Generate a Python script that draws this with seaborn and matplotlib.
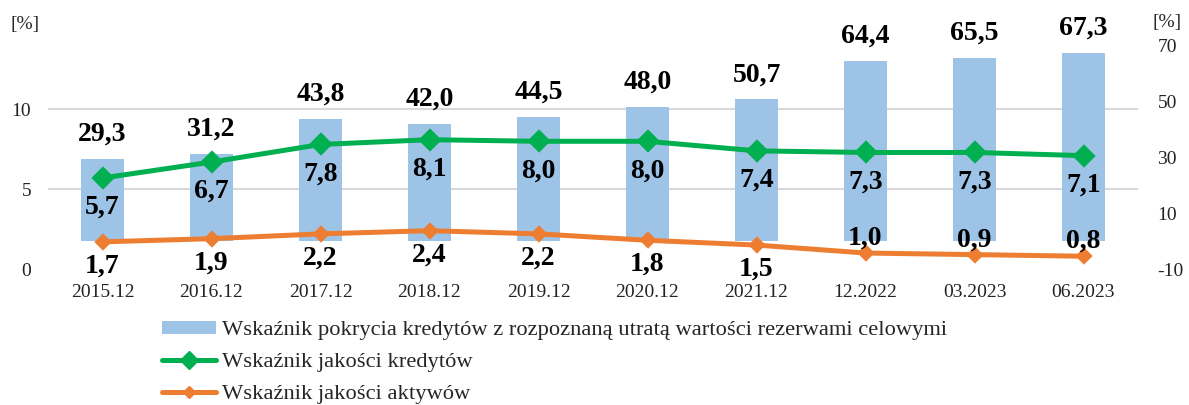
import matplotlib
matplotlib.use("Agg")
import matplotlib.pyplot as plt
from matplotlib.patches import Patch
from matplotlib.lines import Line2D
from matplotlib.ticker import FixedLocator
import seaborn as sns

categories = ["2015.12", "2016.12", "2017.12", "2018.12", "2019.12",
              "2020.12", "2021.12", "12.2022", "03.2023", "06.2023"]
coverage = [29.3, 31.2, 43.8, 42.0, 44.5, 48.0, 50.7, 64.4, 65.5, 67.3]
loan_quality = [5.7, 6.7, 7.8, 8.1, 8.0, 8.0, 7.4, 7.3, 7.3, 7.1]
asset_quality = [1.7, 1.9, 2.2, 2.4, 2.2, 1.8, 1.5, 1.0, 0.9, 0.8]
asset_label_side = ["below"] * 7 + ["above"] * 3

label_cov = "Wskaźnik pokrycia kredytów z rozpoznaną utratą wartości rezerwami celowymi"
label_loan = "Wskaźnik jakości kredytów"
label_asset = "Wskaźnik jakości aktywów"

left_ticks = [0, 5, 10]
right_ticks = [-10, 10, 30, 50, 70]
left_lim = (0, 14)
right_lim = (-10, 70)

BLUE = "#9DC3E6"
GREEN = "#00B050"
ORANGE = "#ED7D31"
GRID = "#D9D9D9"

sns.set_theme(style="white")
plt.rcParams["font.family"] = ["Liberation Serif", "DejaVu Serif"]

fig = plt.figure(figsize=(11.89, 4.05), dpi=100)
ax1 = fig.add_axes([48 / 1189, 1 - 269 / 405, 1090 / 1189, (269 - 45.5) / 405])
ax2 = ax1.twinx()

# bars on right axis
sns.barplot(x=categories, y=coverage, ax=ax2, color=BLUE, saturation=1,
            width=0.4, errorbar=None, linewidth=0)

# lines on left axis
sns.pointplot(x=categories, y=loan_quality, ax=ax1, color=GREEN, markers="D",
              markersize=9, linewidth=3.6, errorbar=None)
sns.pointplot(x=categories, y=asset_quality, ax=ax1, color=ORANGE, markers="D",
              markersize=6.5, linewidth=3.6, errorbar=None)

ax1.set_zorder(ax2.get_zorder() + 1)
ax1.patch.set_visible(False)

for ax in (ax1, ax2):
    ax.set_xlim(-0.5, len(categories) - 0.5)
    ax.set_xlabel("")
    ax.set_ylabel("")
    for s in ax.spines.values():
        s.set_visible(False)
    ax.tick_params(length=0)

ax1.set_ylim(*left_lim)
ax2.set_ylim(*right_lim)
ax1.set_yticks(left_ticks)
ax1.set_yticklabels([str(t) for t in left_ticks])
ax2.set_yticks(right_ticks)
ax2.set_yticklabels([str(t) for t in right_ticks])
ax1.grid(False)
ax2.grid(False)

# horizontal gridlines follow the left axis, drawn behind the bars
scale = (right_lim[1] - right_lim[0]) / (left_lim[1] - left_lim[0])
grid_pos = [right_lim[0] + (t - left_lim[0]) * scale for t in left_ticks]
ax2.yaxis.set_minor_locator(FixedLocator(grid_pos))
ax2.grid(True, which="minor", axis="y", color=GRID, linewidth=1.5)
ax2.set_axisbelow(True)
ax2.tick_params(which="minor", length=0)

ax1.tick_params(axis="y", labelsize=14, pad=12, labelcolor="#222222")
ax2.tick_params(axis="y", labelsize=14, pad=14, labelcolor="#222222")
ax1.tick_params(axis="x", labelsize=14, pad=11, labelcolor="#222222")
ax2.tick_params(axis="x", labelbottom=False)

lab_kw = dict(textcoords="offset points", ha="center", va="baseline",
              fontsize=20, fontweight="bold", color="black")
fmt = lambda v: f"{v:.1f}".replace(".", ",")

for i, v in enumerate(coverage):
    ax2.annotate(fmt(v), xy=(i, v), xytext=(0, 13), **lab_kw)
for i, v in enumerate(loan_quality):
    ax1.annotate(fmt(v), xy=(i, v), xytext=(0, -26), **lab_kw)
for i, (v, side) in enumerate(zip(asset_quality, asset_label_side)):
    off = -22 if side == "below" else 6
    ax1.annotate(fmt(v), xy=(i, v), xytext=(0, off), **lab_kw)

fig.text(10 / 1189, 1 - 25 / 405, "[%]", fontsize=14, va="center", ha="left")
fig.text(1153 / 1189, 1 - 22 / 405, "[%]", fontsize=14, va="center", ha="left")

handles = [
    Patch(facecolor=BLUE, edgecolor="none"),
    Line2D([], [], color=GREEN, linewidth=3.6, marker="D", markersize=9),
    Line2D([], [], color=ORANGE, linewidth=3.6, marker="D", markersize=6.5),
]
fig.legend(handles, [label_cov, label_loan, label_asset], loc="upper left",
           bbox_to_anchor=(162 / 1189, 1 - 321 / 405), frameon=False,
           fontsize=16.2, borderpad=0, borderaxespad=0, handlelength=2.4,
           handleheight=0.5, handletextpad=0.25, labelspacing=0.56,
           numpoints=1)

fig.savefig("out.png", dpi=100)
